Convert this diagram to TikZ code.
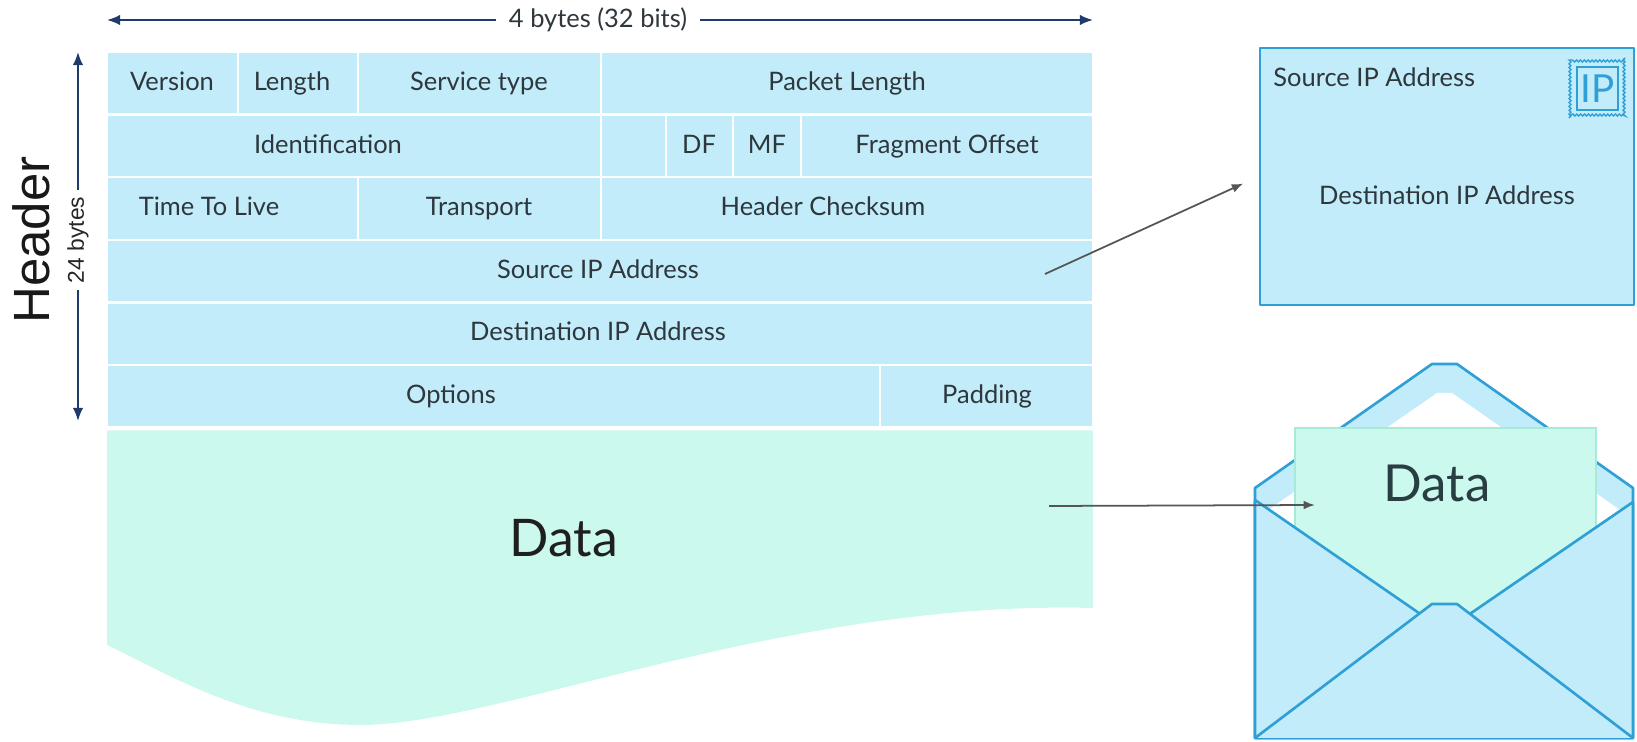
\documentclass[tikz,border=0pt]{standalone}
\usepackage{fontspec}
\setmainfont{Lato}
\newfontfamily\headfont{Liberation Sans}
\usetikzlibrary{arrows.meta,decorations.pathmorphing}
\definecolor{cellblue}{HTML}{C3ECFB}
\definecolor{datamint}{HTML}{CCF9EE}
\definecolor{mintedge}{HTML}{A8EAD8}
\definecolor{envblue}{HTML}{2EA0D6}
\definecolor{dimnavy}{HTML}{1F3B6B}
\definecolor{txtgray}{HTML}{2D373C}
\definecolor{linkgray}{HTML}{555555}
\begin{document}
\begin{tikzpicture}[x=0.02cm,y=-0.02cm,
        cell/.style={fill=cellblue,draw=white,line width=1.3pt},
        field/.style={anchor=base,text=txtgray,inner sep=0pt,font=\fontsize{14.5}{17}\selectfont},
        dimline/.style={draw=dimnavy,line width=1.1pt,-{Latex[length=7.5pt,width=6pt]}},
        link/.style={draw=linkgray,line width=1pt,-{Latex[length=6.5pt,width=5pt]}},
        env/.style={draw=envblue,fill=cellblue,line width=1.5pt,line join=round}]
            \useasboundingbox (0,0) rectangle (1637,742);

            % header rows
            \draw[cell] (107,52) rectangle (238,114.6);
            \draw[cell] (238,52) rectangle (358,114.6);
            \draw[cell] (358,52) rectangle (601,114.6);
            \draw[cell] (601,52) rectangle (1093,114.6);
            \draw[cell] (107,114.6) rectangle (601,177.2);
            \draw[cell] (601,114.6) rectangle (666,177.2);
            \draw[cell] (666,114.6) rectangle (733,177.2);
            \draw[cell] (733,114.6) rectangle (801,177.2);
            \draw[cell] (801,114.6) rectangle (1093,177.2);
            \draw[cell] (107,177.2) rectangle (358,239.8);
            \draw[cell] (358,177.2) rectangle (601,239.8);
            \draw[cell] (601,177.2) rectangle (1093,239.8);
            \draw[cell] (107,239.8) rectangle (1093,302.4);
            \draw[cell] (107,302.4) rectangle (1093,365);
            \draw[cell] (107,365) rectangle (880,427.6);
            \draw[cell] (880,365) rectangle (1093,427.6);

            \node[field] (version) at (172,91) {Version};
            \node[field] (hlen) at (292,91) {Length};
            \node[field] (service) at (479,91) {Service type};
            \node[field] (pktlen) at (847,91) {Packet Length};
            \node[field] (ident) at (328,153.5) {Identification};
            \node[field] (df) at (699,153.5) {DF};
            \node[field] (mf) at (767,153.5) {MF};
            \node[field] (fragoff) at (947,153.5) {Fragment Offset};
            \node[field] (ttl) at (209,216) {Time To Live};
            \node[field] (transport) at (479,216) {Transport};
            \node[field] (checksum) at (823,216) {Header Checksum};
            \node[field] (srcip) at (598,278.5) {Source IP Address};
            \node[field] (dstip) at (598,341) {Destination IP Address};
            \node[field] (options) at (451,404) {Options};
            \node[field] (padding) at (987,404) {Padding};

            % payload
            \fill[datamint] (107,430.5) -- (1093,430.5) -- (1093,608)
                .. controls (780,600) and (500,725) .. (360,725)
                .. controls (250,725) and (170,675) .. (107,645) -- cycle;
            \node[font=\fontsize{29.5}{35}\selectfont,text=black!88] (payload) at (564,538) {Data};

            % size arrows
            \node[text=txtgray,inner xsep=7pt,font=\fontsize{14.5}{17}\selectfont] (wbytes) at (598,20) {4 bytes (32 bits)};
            \coordinate (wleft) at (107,20);
            \coordinate (wright) at (1093,20);
            \draw[dimline] (wbytes.west) -- (wleft);
            \draw[dimline] (wbytes.east) -- (wright);

            \node[rotate=90,font=\headfont\fontsize{29}{34}\selectfont,text=black!90] (header) at (31,240) {Header};
            \node[rotate=90,inner sep=3.5pt,font=\headfont\fontsize{13}{15}\selectfont,text=black!85] (hbytes) at (78,240) {24 bytes};
            \coordinate (htop) at (78,52);
            \coordinate (hbot) at (78,421);
            \draw[dimline] (hbytes.east) -- (htop);
            \draw[dimline] (hbytes.west) -- (hbot);

            % address card
            \node[env,minimum width=7.48cm,minimum height=5.14cm] (addr) at (1447,176.5) {};
            \node[anchor=base west,text=txtgray,inner sep=0pt,font=\fontsize{14.5}{17}\selectfont] (from) at (1273,87) {Source IP Address};
            \node[anchor=base,text=txtgray,inner sep=0pt,font=\fontsize{14.5}{17}\selectfont] (to) at (1447,205) {Destination IP Address};
            \draw[envblue,line width=0.8pt,decorate,decoration={bumps,amplitude=1.1pt,segment length=4.4pt}] (1569,60) rectangle (1625,116);
            \draw[envblue,line width=0.9pt] (1577,67) rectangle (1618,110);
            \node[text=envblue,inner sep=0pt,font=\fontsize{22}{26}\selectfont] (stamp) at (1597.5,89) {IP};

            % envelope
            \draw[env] (1255,738) -- (1255,488) -- (1432,364) -- (1457,364) -- (1633,488) -- (1633,738) -- cycle;
            \fill[white] (1268,560) -- (1268,510) -- (1437,393) -- (1452,393) -- (1620,510) -- (1620,560) -- cycle;
            \draw[fill=datamint,draw=mintedge,line width=1pt] (1295,428) rectangle (1596,700);
            \node[font=\fontsize{29}{35}\selectfont,text=txtgray!90!teal] (letter) at (1437,483) {Data};
            \draw[env] (1255,738) -- (1255,500) -- (1445,631) -- (1633,502) -- (1633,738) -- cycle;
            \draw[env] (1255,738) -- (1432,604) -- (1457,604) -- (1633,738);

            % pointers
            \coordinate (srcptr) at (1045,274);
            \coordinate (dataptr) at (1049,506);
            \coordinate (lettertip) at (1315,505);
            \draw[link,shorten >=0.34cm] (srcptr) -- (addr.west);
            \draw[link] (dataptr) -- (lettertip);
        \end{tikzpicture}
\end{document}
